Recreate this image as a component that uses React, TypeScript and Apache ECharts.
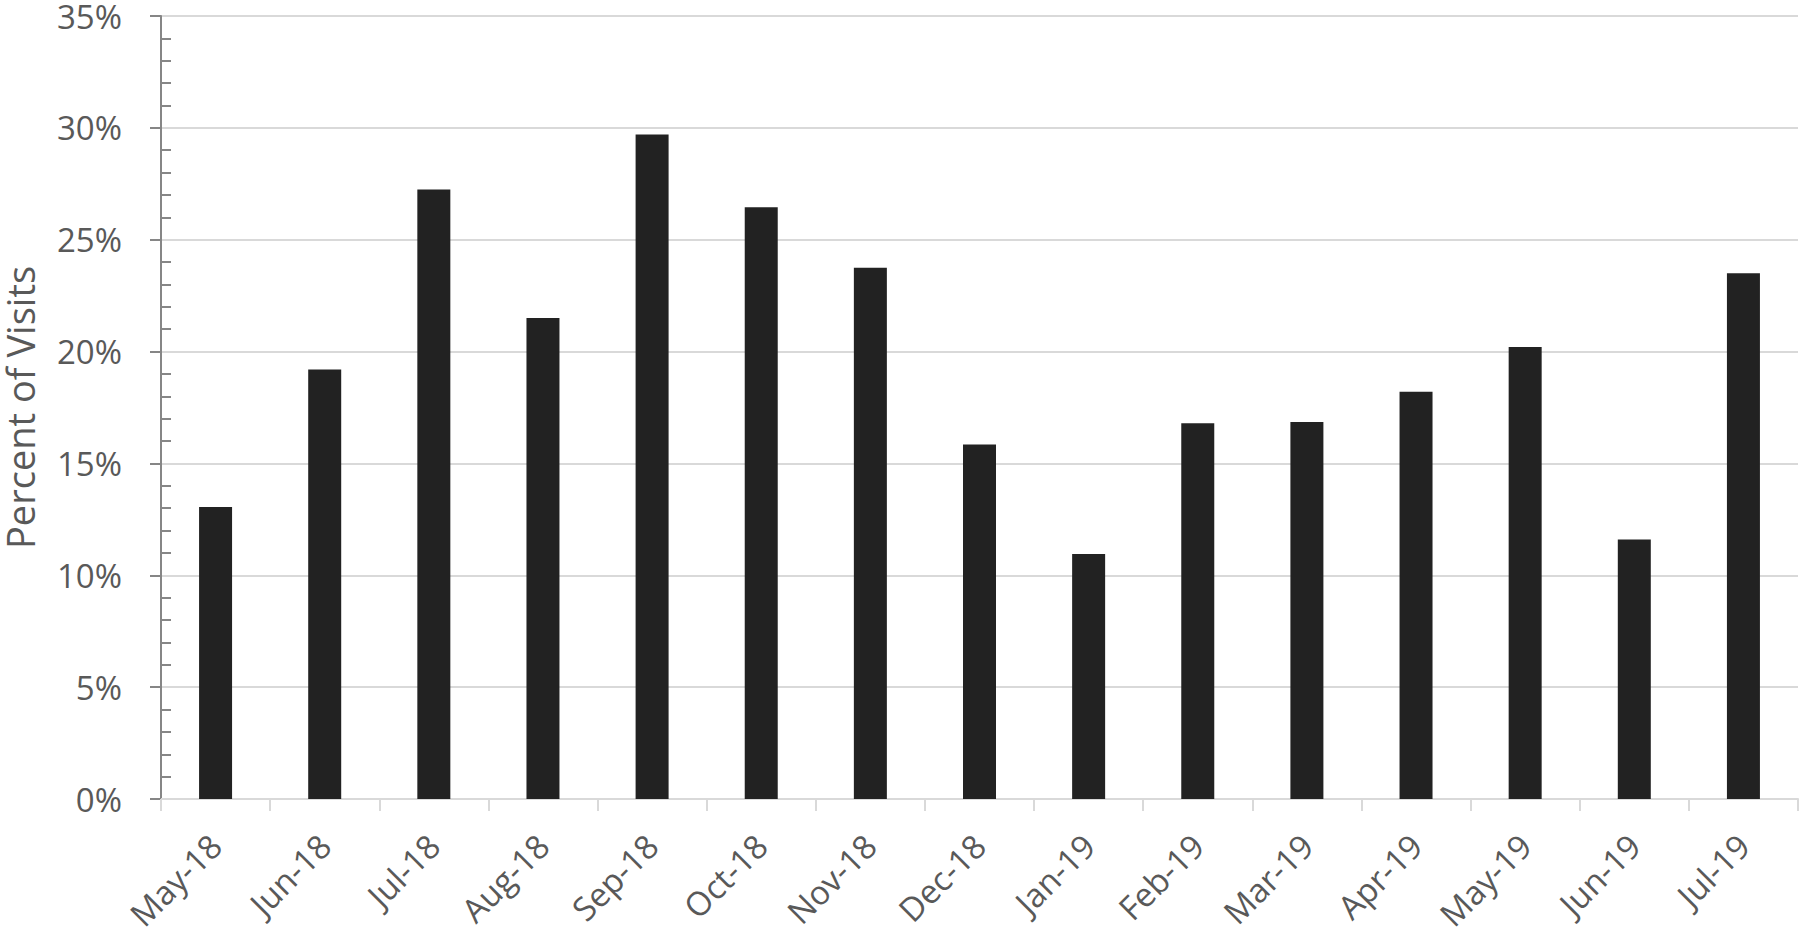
import React, { useEffect, useRef } from "react";
import * as echarts from "echarts";

const categories = [
  "May-18", "Jun-18", "Jul-18", "Aug-18", "Sep-18", "Oct-18", "Nov-18", "Dec-18",
  "Jan-19", "Feb-19", "Mar-19", "Apr-19", "May-19", "Jun-19", "Jul-19",
];
const visitsPercent = [
  13.05, 19.2, 27.25, 21.5, 29.7, 26.45, 23.75, 15.85,
  10.95, 16.8, 16.85, 18.2, 20.2, 11.6, 23.5,
];
const yAxisTitle = "Percent of Visits";

const FONT = "Open Sans";
const TEXT = "#595959";

export default function App() {
  const ref = useRef<HTMLDivElement>(null);
  useEffect(() => {
    if (!ref.current) return;
    const chart = echarts.init(ref.current, undefined, { renderer: "svg" });
    chart.setOption({
      animation: false,
      backgroundColor: "#ffffff",
      grid: {
        left: 161,
        right: 2,
        top: 16,
        bottom: 137,
        containLabel: false,
        outerBoundsMode: "none",
      },
      xAxis: {
        type: "category",
        data: categories,
        boundaryGap: true,
        axisLine: { show: true, lineStyle: { color: "#d9d9d9", width: 2 } },
        axisTick: { show: true, alignWithLabel: false, length: 12, lineStyle: { color: "#d9d9d9", width: 2 } },
        axisLabel: { rotate: 45, margin: 41, fontFamily: FONT, fontSize: 33, color: TEXT, interval: 0 },
        splitLine: { show: false },
      },
      yAxis: {
        type: "value",
        min: 0,
        max: 35,
        interval: 5,
        name: yAxisTitle,
        nameLocation: "middle",
        nameRotate: 90,
        nameGap: 122,
        nameTextStyle: { fontFamily: FONT, fontSize: 38, color: TEXT },
        axisLine: { show: true, lineStyle: { color: "#868686", width: 2 } },
        axisTick: { show: true, inside: false, length: 11, lineStyle: { color: "#868686", width: 2 } },
        minorTick: { show: true, splitNumber: 5, length: -10, lineStyle: { color: "#868686", width: 2 } },
        axisLabel: { formatter: "{value}%", margin: 39, fontFamily: FONT, fontSize: 33, color: TEXT },
        splitLine: { show: true, lineStyle: { color: "#d9d9d9", width: 2 } },
        minorSplitLine: { show: false },
      },
      series: [
        {
          type: "bar",
          data: visitsPercent,
          barWidth: 33,
          itemStyle: { color: "#222222" },
        },
      ],
    });
    return () => chart.dispose();
  }, []);
  return (
    <div
      ref={ref}
      style={{ position: "fixed", left: 0, top: 0, width: 1800, height: 936 }}
    />
  );
}
